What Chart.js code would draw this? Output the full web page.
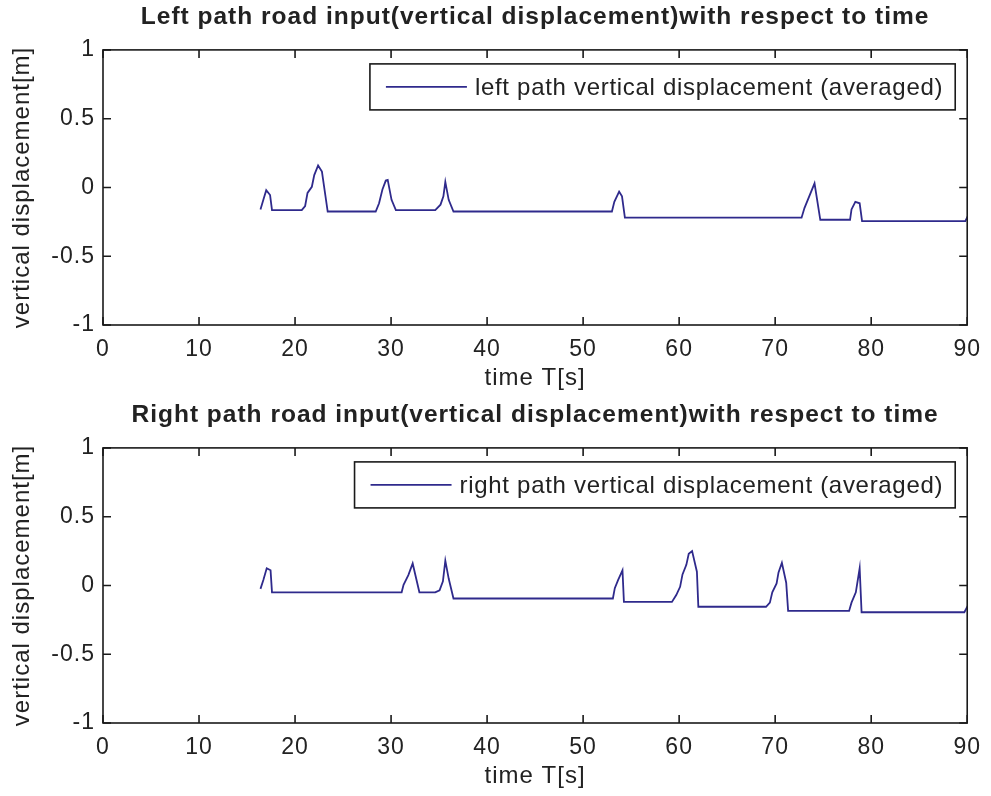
<!DOCTYPE html>
<html>
<head>
<meta charset="utf-8">
<script src="https://cdn.jsdelivr.net/npm/chart.js@4.4.1/dist/chart.umd.min.js"></script>
<style>
  html, body { margin: 0; padding: 0; background: #fff; }
  canvas { display: block; }
</style>
</head>
<body>
<canvas id="leftChart" width="991" height="398"></canvas>
<canvas id="rightChart" width="991" height="398"></canvas>
<script>
  // road input samples, time [s] and vertical displacement [m]
  let leftT = [16.4, 16.7, 17.0, 17.4, 17.6, 20.7, 21.05, 21.3, 21.75, 22.0, 22.4, 22.8, 23.4,
    28.4, 28.75, 29.1, 29.45, 29.65, 30.05, 30.5, 34.6, 35.15, 35.45, 35.65, 36.0, 36.5,
    53.0, 53.25, 53.75, 54.05, 54.35, 72.75, 73.05, 74.1, 74.7, 77.8, 77.95, 78.35, 78.8, 79.05,
    89.8, 90.2];
  let leftZ = [-0.16, -0.09, -0.02, -0.055, -0.165, -0.165, -0.135, -0.04, 0.005, 0.09, 0.16, 0.115, -0.175,
    -0.175, -0.115, -0.015, 0.05, 0.055, -0.09, -0.165, -0.165, -0.125, -0.065, 0.04, -0.09, -0.175,
    -0.175, -0.105, -0.03, -0.065, -0.22, -0.22, -0.15, 0.03, -0.235, -0.235, -0.16, -0.105, -0.115, -0.245,
    -0.245, -0.19];

  let rightT = [16.4, 16.7, 17.05, 17.45, 17.6, 31.1, 31.3, 31.8, 32.25, 32.95, 34.6, 35.05, 35.4, 35.65,
    36.0, 36.5, 53.1, 53.3, 53.65, 54.1, 54.25, 59.25, 59.7, 60.1, 60.35, 60.75, 61.0, 61.35, 61.85, 62.0,
    69.05, 69.45, 69.7, 70.15, 70.35, 70.7, 71.15, 71.35, 77.7, 77.95, 78.4, 78.8, 79.0, 89.7, 90.2];
  let rightZ = [-0.025, 0.04, 0.125, 0.11, -0.05, -0.05, 0.005, 0.075, 0.16, -0.05, -0.05, -0.035, 0.03, 0.18,
    0.05, -0.095, -0.095, -0.02, 0.04, 0.11, -0.12, -0.12, -0.07, -0.01, 0.08, 0.15, 0.23, 0.25, 0.1, -0.155,
    -0.155, -0.125, -0.05, 0.015, 0.095, 0.165, 0.02, -0.185, -0.185, -0.125, -0.05, 0.125, -0.195, -0.195, -0.13];

  let xTicks = [0, 10, 20, 30, 40, 50, 60, 70, 80, 90];
  let yTicks = [-1, -0.5, 0, 0.5, 1];

  Chart.defaults.font.family = '"Liberation Sans", Arial, sans-serif';
  Chart.defaults.color = '#222';

  const lineColor = '#2f2a8c';

  // matlab export spreads its glyphs out a little
  const spacingPlugin = {
    id: 'spacing',
    beforeDraw(chart) {
      chart.ctx.letterSpacing = '1px';
    },
    afterDraw(chart) {
      chart.ctx.letterSpacing = '0px';
    }
  };

  // matlab style box with inward ticks on all four sides
  const boxPlugin = {
    id: 'box',
    afterDatasetsDraw(chart) {
      const ctx = chart.ctx;
      const a = chart.chartArea;
      const sx = chart.scales.x, sy = chart.scales.y;
      const len = 8;
      ctx.save();
      ctx.strokeStyle = '#1a1a1a';
      ctx.lineWidth = 1.6;
      ctx.strokeRect(a.left, a.top, a.right - a.left, a.bottom - a.top);
      ctx.beginPath();
      sx.ticks.forEach(function (t) {
        const px = sx.getPixelForValue(t.value);
        ctx.moveTo(px, a.bottom); ctx.lineTo(px, a.bottom - len);
        ctx.moveTo(px, a.top); ctx.lineTo(px, a.top + len);
      });
      sy.ticks.forEach(function (t) {
        const py = sy.getPixelForValue(t.value);
        ctx.moveTo(a.left, py); ctx.lineTo(a.left + len, py);
        ctx.moveTo(a.right, py); ctx.lineTo(a.right - len, py);
      });
      ctx.stroke();
      ctx.restore();
    }
  };

  // boxed legend in the upper right corner
  const legendPlugin = {
    id: 'boxLegend',
    afterDraw(chart) {
      const ctx = chart.ctx;
      const a = chart.chartArea;
      const label = chart.data.datasets[0].label;
      ctx.save();
      ctx.font = '24px "Liberation Sans", Arial, sans-serif';
      ctx.letterSpacing = '0.7px';
      const tw = ctx.measureText(label).width;
      const right = a.right - 12;
      const top = a.top + 14;
      const h = 46;
      const w = 16 + 81 + 8 + tw + 12;
      const left = right - w;
      ctx.fillStyle = '#fff';
      ctx.fillRect(left, top, w, h);
      ctx.strokeStyle = '#1a1a1a';
      ctx.lineWidth = 1.6;
      ctx.strokeRect(left, top, w, h);
      ctx.strokeStyle = lineColor;
      ctx.lineWidth = 1.8;
      ctx.beginPath();
      ctx.moveTo(left + 16, top + h / 2);
      ctx.lineTo(left + 97, top + h / 2);
      ctx.stroke();
      ctx.fillStyle = '#222';
      ctx.textBaseline = 'middle';
      ctx.fillText(label, left + 105, top + h / 2 + 1);
      ctx.restore();
    }
  };

  function makeChart(id, title, label, times, values) {
    const points = [];
    for (let i = 0; i < times.length; i++) {
      points.push({x: times[i], y: values[i]});
    }
    const ctx = document.getElementById(id);
    return new Chart(ctx, {
      type: 'line',
      data: {
        datasets: [{
          label: label,
          data: points,
          borderColor: lineColor,
          borderWidth: 1.8,
          pointRadius: 0,
          tension: 0,
          clip: 0
        }]
      },
      options: {
        responsive: false,
        animation: false,
        devicePixelRatio: 1,
        layout: { padding: { left: 0, right: 21, top: 0, bottom: 0 } },
        plugins: {
          legend: { display: false },
          tooltip: { enabled: false },
          title: {
            display: true,
            fullSize: false,
            text: title,
            color: '#222',
            font: { size: 24.5, weight: 'bold' },
            padding: { top: 3, bottom: 17.5 }
          }
        },
        scales: {
          x: {
            type: 'linear',
            min: 0,
            max: 90,
            afterBuildTicks: function (s) { s.ticks = xTicks.map(function (v) { return {value: v}; }); },
            afterFit: function (s) { s.height = 73; },
            grid: { display: false, drawTicks: false },
            border: { display: false },
            ticks: { font: { size: 23 }, padding: 11, maxRotation: 0, color: '#222' },
            title: { display: true, text: 'time T[s]', font: { size: 24 }, color: '#222', padding: { top: 0, bottom: 5.5 } }
          },
          y: {
            min: -1,
            max: 1,
            afterBuildTicks: function (s) { s.ticks = yTicks.map(function (v) { return {value: v}; }); },
            afterFit: function (s) { s.width = 103; },
            grid: { display: false, drawTicks: false },
            border: { display: false },
            ticks: {
              font: { size: 23 },
              padding: 8,
              color: '#222',
              callback: function (v) { return String(v); }
            },
            title: { display: true, text: 'vertical displacement[m]', font: { size: 24 }, color: '#222', padding: { top: 7.5, bottom: 0 } }
          }
        }
      },
      plugins: [spacingPlugin, boxPlugin, legendPlugin]
    });
  }

  makeChart('leftChart', 'Left path road input(vertical displacement)with respect to time',
    'left path vertical displacement (averaged)', leftT, leftZ);
  makeChart('rightChart', 'Right path road input(vertical displacement)with respect to time',
    'right path vertical displacement (averaged)', rightT, rightZ);
</script>
</body>
</html>
